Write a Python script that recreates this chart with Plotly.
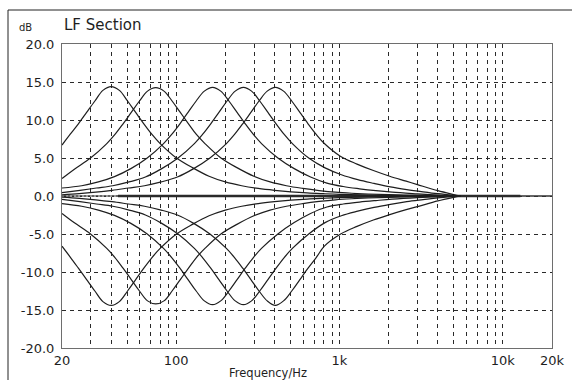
import plotly.graph_objects as go

# ---------------- data ----------------
X_TICKS = [20, 100, 1000, 10000, 20000]
X_LABELS = ["20", "100", "1k", "10k", "20k"]
X_MINOR = [30, 40, 50, 60, 70, 80, 90,
           200, 300, 400, 500, 600, 700, 800, 900,
           2000, 3000, 4000, 5000, 6000, 7000, 8000, 9000]
Y_TICKS = [-20, -15, -10, -5, 0, 5, 10, 15, 20]
Y_LABELS = ["-20.0", "-15.0", "-10.0", "-5.0", "0.0", "5.0", "10.0", "15.0", "20.0"]

# boost / cut curves (frequency in Hz, gain in dB)
B1_f = [20, 22.4, 25.2, 28.3, 31.8, 35.6, 40, 44.9, 50.4, 56.5, 63.4, 71.1, 79.8, 100.5, 126.5,
        159, 200, 252, 318, 400, 504, 634, 800, 1000, 1600, 2500, 4000, 5500]
B1_db = [6.7, 8.1, 9.5, 11.0, 12.5, 13.9, 14.4, 13.9, 12.5, 11.0, 9.5, 8.1, 6.9, 5.0, 3.7,
         2.6, 1.85, 1.35, 1.0, 0.75, 0.55, 0.4, 0.3, 0.22, 0.12, 0.06, 0.02, 0.0]
C1_db = [-6.6, -8.0, -9.5, -11.0, -12.5, -13.9, -14.4, -13.9, -12.5, -11.0, -9.5, -8.1, -6.9, -5.0, -3.7,
         -2.6, -1.85, -1.35, -1.0, -0.75, -0.55, -0.4, -0.3, -0.22, -0.12, -0.06, -0.02, 0.0]

B2_f = [20, 23.7, 29.9, 37.6, 42.2, 47.3, 53.1, 59.6, 66.8, 75, 84.2, 94.4, 106, 119, 133, 150,
        188, 237, 299, 376, 473, 596, 750, 944, 1190, 1500, 2000, 3000, 4000, 5500]
B2_db = [2.3, 3.5, 5.0, 6.9, 8.1, 9.5, 11.0, 12.5, 13.8, 14.25, 13.8, 12.5, 11.0, 9.5, 8.1, 6.9,
         5.0, 3.7, 2.6, 1.85, 1.35, 1.0, 0.72, 0.5, 0.36, 0.26, 0.17, 0.08, 0.03, 0.0]
C2_db = [-2.3, -3.5, -5.0, -6.9, -8.1, -9.5, -11.0, -12.5, -13.8, -14.2, -13.8, -12.5, -11.0, -9.5, -8.1, -6.9,
         -5.0, -3.7, -2.6, -1.85, -1.35, -1.0, -0.72, -0.5, -0.36, -0.26, -0.17, -0.08, -0.03, 0.0]

B3_f = [20, 26.4, 33.4, 41.9, 52.8, 66.5, 83.7, 93.9, 105.4, 118.2, 132.6, 148.8, 167, 187.4, 210.3,
        236, 264.7, 297, 333, 419.5, 528, 665, 837, 1054, 1326, 1670, 2100, 3000, 4000, 5000, 5500]
B3_db = [1.05, 1.35, 1.85, 2.55, 3.6, 5.0, 6.9, 8.1, 9.5, 11.0, 12.5, 13.8, 14.3, 13.8, 12.5,
         11.0, 9.5, 8.1, 6.9, 5.0, 3.6, 2.5, 1.7, 1.25, 0.95, 0.7, 0.5, 0.28, 0.12, 0.03, 0.0]
C3_db = [-1.0, -1.35, -1.85, -2.55, -3.6, -5.0, -6.9, -8.1, -9.5, -11.0, -12.5, -13.8, -14.3, -13.8, -12.5,
         -11.0, -9.5, -8.1, -6.9, -5.0, -3.5, -2.3, -1.45, -1.05, -0.8, -0.6, -0.42, -0.22, -0.1, -0.03, 0.0]

B4_f = [20, 25.8, 32.5, 40.9, 51.5, 64.8, 81.6, 102.7, 129.3, 145, 162.8, 182.7, 204.9, 229.9, 258,
        289.5, 324.8, 364.6, 409, 458.7, 514.7, 648, 816, 1027, 1293, 1628, 2049, 2580, 3250, 4000, 5000, 5500]
B4_db = [0.45, 0.75, 1.05, 1.35, 1.85, 2.5, 3.6, 5.0, 6.9, 8.1, 9.5, 11.0, 12.5, 13.8, 14.3,
         13.8, 12.5, 11.0, 9.5, 8.1, 6.9, 5.0, 3.7, 2.8, 2.15, 1.65, 1.2, 0.85, 0.55, 0.3, 0.08, 0.0]
C4_db = [-0.45, -0.75, -1.05, -1.35, -1.85, -2.5, -3.6, -5.0, -6.9, -8.1, -9.5, -11.0, -12.5, -13.8, -14.3,
         -13.8, -12.5, -11.0, -9.5, -8.1, -6.9, -5.0, -3.5, -2.6, -2.0, -1.5, -1.1, -0.75, -0.48, -0.25, -0.07, 0.0]

B5_f = [20, 25.5, 32.2, 40.5, 51, 64, 81, 101.7, 128, 161, 203, 227.7, 255.6, 286.8, 321.6, 361, 405,
        454.4, 510, 572, 642, 720, 808, 1017, 1280, 1612, 2030, 2560, 3000, 4000, 5000, 5500]
B5_db = [0.15, 0.3, 0.5, 0.75, 1.05, 1.35, 1.85, 2.5, 3.6, 5.0, 6.9, 8.1, 9.5, 11.0, 12.5, 13.8, 14.3,
         13.8, 12.5, 11.0, 9.5, 8.1, 6.9, 5.2, 4.2, 3.35, 2.6, 1.95, 1.5, 0.7, 0.2, 0.0]
C5_db = [-0.15, -0.3, -0.5, -0.75, -1.05, -1.35, -1.85, -2.5, -3.6, -5.0, -6.9, -8.1, -9.5, -11.0, -12.5, -13.8, -14.4,
         -13.8, -12.5, -11.0, -9.5, -8.1, -6.6, -5.0, -4.0, -3.15, -2.45, -1.8, -1.4, -0.65, -0.18, 0.0]

# flat (0 dB) responses
FLAT_LOW_f = [20, 44]
FLAT_MAIN_f = [44, 12800]
FLAT_ALL_f = [20, 20000]
FLAT_db = [0, 0]

CURVES = [(B1_f, B1_db), (B1_f, C1_db), (B2_f, B2_db), (B2_f, C2_db), (B3_f, B3_db),
          (B3_f, C3_db), (B4_f, B4_db), (B4_f, C4_db), (B5_f, B5_db), (B5_f, C5_db)]

FONT = "DejaVu Sans"
INK = "#1e1e1e"
GRID = "#2a2a2a"

fig = go.Figure()

fig.add_trace(go.Scatter(x=FLAT_ALL_f, y=FLAT_db, mode="lines",
                         line=dict(color="#333333", width=1.4), hoverinfo="skip"))
fig.add_trace(go.Scatter(x=FLAT_LOW_f, y=FLAT_db, mode="lines",
                         line=dict(color="#9a9a9a", width=2, dash="2px,2px"), hoverinfo="skip"))
fig.add_trace(go.Scatter(x=FLAT_MAIN_f, y=FLAT_db, mode="lines",
                         line=dict(color="#2a2a2a", width=2.6), hoverinfo="skip"))

for f, db in CURVES:
    fig.add_trace(go.Scatter(x=f, y=db, mode="lines",
                             line=dict(color=INK, width=1.2, shape="spline", smoothing=1.0),
                             hoverinfo="skip"))

fig.update_layout(
    template="none",
    width=572, height=380,
    margin=dict(l=62, r=20, t=44, b=32, autoexpand=False),
    paper_bgcolor="white", plot_bgcolor="white",
    showlegend=False,
    font=dict(family=FONT, size=13, color=INK),
    xaxis=dict(
        type="log", range=[1.30103, 4.30103],
        tickmode="array", tickvals=X_TICKS, ticktext=X_LABELS,
        ticks="", showgrid=True, gridcolor=GRID, gridwidth=1, griddash="4px,4px",
        minor=dict(tickmode="array", tickvals=X_MINOR, ticks="", showgrid=True,
                   gridcolor=GRID, gridwidth=1, griddash="4px,4px"),
        showline=True, mirror=True, linecolor="#6e6e6e", linewidth=1,
        zeroline=False, automargin=False,
        tickfont=dict(family=FONT, size=13, color=INK),
    ),
    yaxis=dict(
        range=[-20, 20],
        tickmode="array", tickvals=Y_TICKS, ticktext=Y_LABELS,
        ticks="", showgrid=True, gridcolor=GRID, gridwidth=1, griddash="4px,4px",
        showline=True, mirror=True, linecolor="#6e6e6e", linewidth=1,
        zeroline=False, automargin=False, ticklabelstandoff=4,
        tickfont=dict(family=FONT, size=13, color=INK),
    ),
    shapes=[dict(type="rect", xref="paper", yref="paper",
                 x0=-0.1102, y0=-0.2, x1=1.2, y1=1.1118,
                 line=dict(color="#222222", width=1), fillcolor="rgba(0,0,0,0)", layer="above")],
    annotations=[
        dict(text="dB", xref="paper", yref="paper", x=-0.0755, y=1.0559,
             xanchor="center", yanchor="middle", showarrow=False,
             font=dict(family=FONT, size=10, color=INK)),
        dict(text="LF Section", xref="paper", yref="paper", x=0.0, y=1.0625,
             xanchor="left", yanchor="middle", showarrow=False,
             font=dict(family=FONT, size=15, color=INK)),
        dict(text="Frequency/Hz", xref="paper", yref="paper", x=0.4204, y=-0.0813,
             xanchor="center", yanchor="middle", showarrow=False,
             font=dict(family=FONT, size=11.5, color=INK)),
    ],
)

fig.write_html("out.html")
